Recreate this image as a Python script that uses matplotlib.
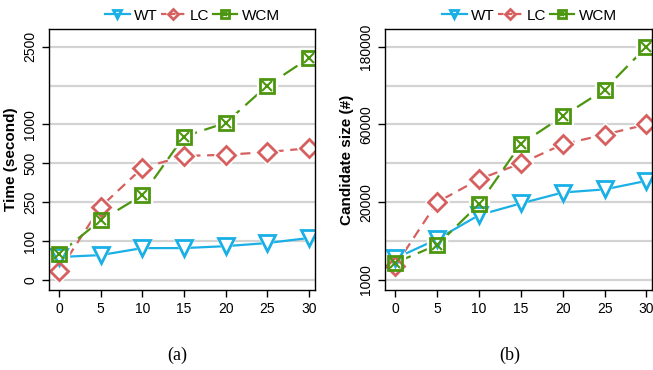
import numpy as np
import matplotlib
matplotlib.use('Agg')
import matplotlib.pyplot as plt
from matplotlib.legend_handler import HandlerTuple

plt.rcParams['font.family'] = ['Liberation Sans', 'DejaVu Sans']

x = [0, 5, 10, 15, 20, 25, 30]

# (a) running time (seconds)
time_wt = [59, 64, 82, 82, 87, 95, 112]
time_lc = [23, 232, 470, 595, 610, 645, 695]
time_wcm = [67, 180, 295, 845, 1030, 1750, 2280]
time_grid = [0, 100, 250, 500, 1000, 1750, 2500]
time_labels = ['0', '100', '250', '500', '1000', '', '2500']

# (b) candidate size
cand_wt = [6000, 10500, 16700, 19700, 25000, 26600, 31000]
cand_lc = [4300, 20000, 31800, 40000, 49800, 54800, 60000]
cand_wcm = [5000, 9100, 19500, 50000, 72600, 114000, 180000]
cand_grid = [1000, 10000, 20000, 40000, 60000, 120000, 180000]
cand_labels = ['1000', '', '20000', '', '60000', '', '180000']

c_wt = '#1AB0E6'
c_lc = '#D65F5F'
c_wcm = '#4C960F'
ls_lc = (0, (4.5, 3))
ls_wcm = (0, (7.5, 3.5))


def make_scale(vals):
    vals = np.asarray(vals, dtype=float)
    pos = np.arange(len(vals), dtype=float)

    def fwd(v):
        v = np.asarray(v, dtype=float)
        out = np.interp(v, vals, pos)
        out = np.where(v < vals[0], (v - vals[0]) / (vals[1] - vals[0]), out)
        out = np.where(v > vals[-1], pos[-1] + (v - vals[-1]) / (vals[-1] - vals[-2]), out)
        return out

    def inv(p):
        p = np.asarray(p, dtype=float)
        out = np.interp(p, pos, vals)
        out = np.where(p < 0, vals[0] + p * (vals[1] - vals[0]), out)
        out = np.where(p > pos[-1], vals[-1] + (p - pos[-1]) * (vals[-1] - vals[-2]), out)
        return out

    return fwd, inv


def panel(ax, wt, lc, wcm, grid, labels, ylabel):
    fwd, inv = make_scale(grid)
    ax.set_yscale('function', functions=(fwd, inv))
    for g in grid:
        ax.axhline(g, color='#D3D3D3', lw=1.6, zorder=0)

    specs = [(wt, c_wt, '-', 'v', 11),
             (lc, c_lc, ls_lc, 'D', 9),
             (wcm, c_wcm, ls_wcm, 's', 10.5)]
    for i, (y, color, ls, marker, ms) in enumerate(specs):
        ax.plot(x, y, color=color, lw=1.6, ls=ls, zorder=2 + i * 0.1)
        # white halo opens a gap in the line round each point
        ax.plot(x, y, ls='none', marker=marker, ms=ms + 3.5, mfc='white',
                mec='white', zorder=3 + i * 0.1)
        ax.plot(x, y, color=color, ls='none', marker=marker, ms=ms,
                mfc='none', mew=2, zorder=5 + i * 0.1)
    hx, = ax.plot(x, wcm, color=c_wcm, ls='none', marker='x', ms=6.5, mew=1.5, zorder=5.5)

    # legend proxies keep the line through the marker
    p1, = ax.plot([], [], color=c_wt, lw=1.6, marker='v', ms=11, mfc='none', mew=2)
    p2, = ax.plot([], [], color=c_lc, lw=1.6, ls=(0, (2.5, 1.5)), marker='D', ms=9,
                  mfc='none', mew=2)
    p3, = ax.plot([], [], color=c_wcm, lw=1.6, marker='s', ms=10.5, mfc='none', mew=2)

    gpos = fwd(grid)
    ax.set_ylim(inv(-0.26), inv(gpos[-1] + 0.46))
    ax.set_xlim(-1.2, 30.7)
    ax.set_xticks(x)
    shown = [g for g, lab in zip(grid, labels) if lab]
    ax.set_yticks(shown)
    ax.set_yticklabels([lab for lab in labels if lab], rotation=90, va='center')
    ax.minorticks_off()
    ax.tick_params(labelsize=10, length=5, width=1, direction='out')
    ax.set_ylabel(ylabel, fontsize=11, fontweight='bold', labelpad=4)
    for s in ax.spines.values():
        s.set_linewidth(1)
        s.set_zorder(10)
    ax.legend([p1, p2, (p3, hx)], ['WT', 'LC', 'WCM'],
              handler_map={tuple: HandlerTuple(ndivide=1, pad=0)},
              loc='lower center', bbox_to_anchor=(0.54, 1.0), ncol=3,
              frameon=False, fontsize=11, handlelength=1.6, handletextpad=0.3,
              columnspacing=0.2, markerscale=0.55, borderaxespad=0.0)


fig = plt.figure(figsize=(6.53, 3.70), dpi=100)
ax1 = fig.add_axes([0.075, 0.216, 0.407, 0.706])
ax2 = fig.add_axes([0.590, 0.216, 0.409, 0.706])

panel(ax1, time_wt, time_lc, time_wcm, time_grid, time_labels, 'Time (second)')
panel(ax2, cand_wt, cand_lc, cand_wcm, cand_grid, cand_labels, 'Candidate size (#)')

fig.text(0.271, 0.04, '(a)', ha='center', va='center', fontsize=13,
         family='Liberation Serif')
fig.text(0.781, 0.04, '(b)', ha='center', va='center', fontsize=13,
         family='Liberation Serif')

fig.savefig('out.png', dpi=100)
